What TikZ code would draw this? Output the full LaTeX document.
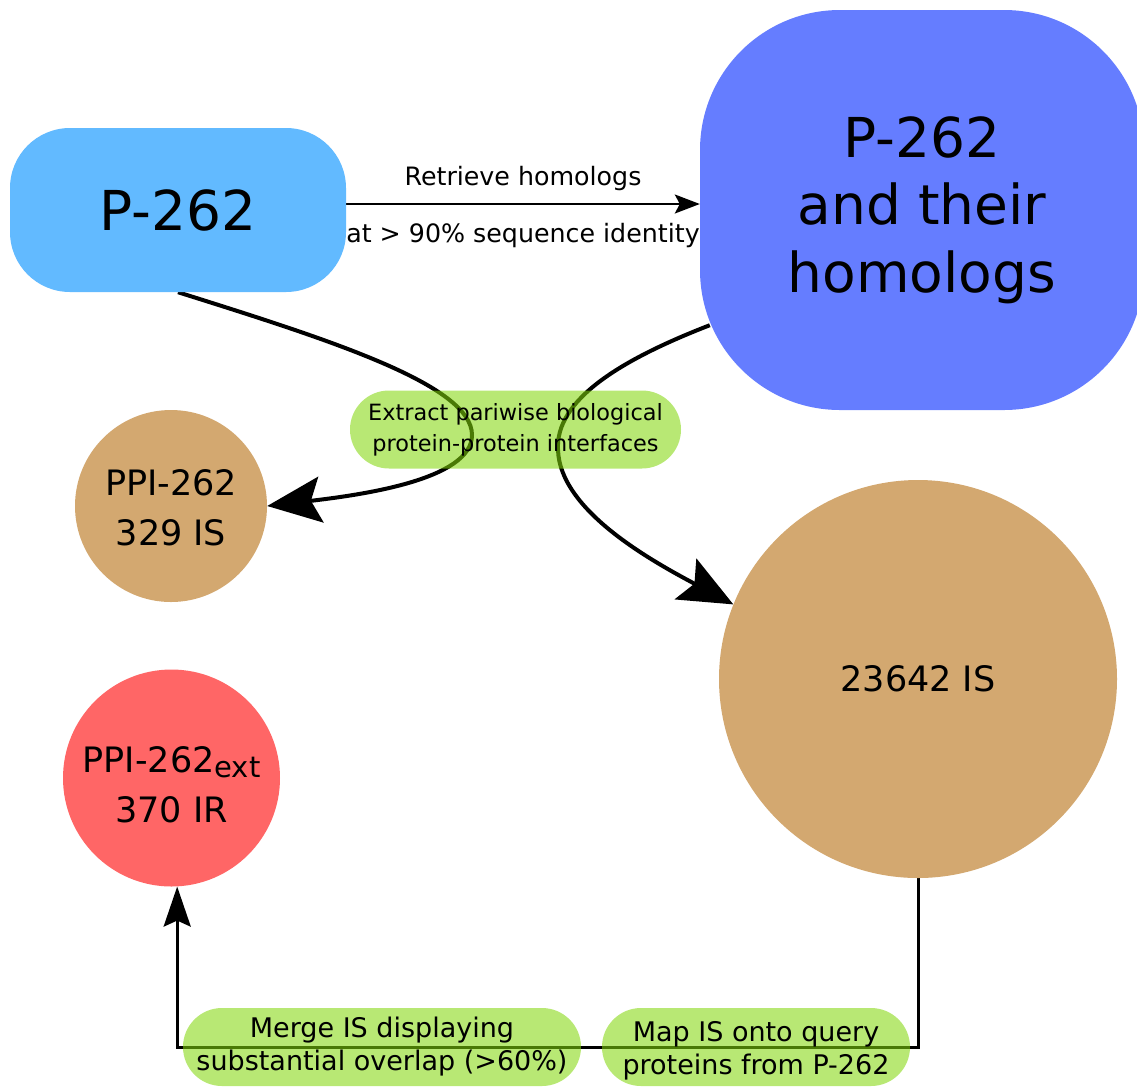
\documentclass[tikz,border=0pt]{standalone}
\usepackage{fontspec}
\setmainfont{DejaVu Sans}
\usetikzlibrary{arrows.meta,backgrounds}
\definecolor{skyblue}{RGB}{98,186,255}
\definecolor{royalblue}{RGB}{101,125,255}
\definecolor{sand}{RGB}{211,168,112}
\definecolor{coral}{RGB}{255,102,102}
\definecolor{lime}{RGB}{130,214,10}

\begin{document}
\begin{tikzpicture}[x=1pt, y=-1pt,
    box/.style={rectangle, align=center, inner sep=0pt, font=\fontsize{55}{67.5}\selectfont},
    blob/.style={circle, align=center, inner sep=0pt, font=\fontsize{35}{50}\selectfont},
    pill/.style={rectangle, rounded corners=39pt, fill=lime, fill opacity=0.57, text opacity=1,
                 align=center, inner sep=0pt, minimum height=78pt},
    tag/.style={inner sep=0pt, font=\fontsize{25.3}{30}\selectfont},
    flow/.style={line width=4pt, -{Stealth[length=54pt, width=46pt, inset=10pt]}}]
    \useasboundingbox (0,0) rectangle (1137,1088);

    \node[box, fill=skyblue, rounded corners=60pt, minimum width=336pt, minimum height=164pt] (p262) at (178,210) {P-262};
    \node[box, fill=royalblue, rounded corners=140pt, minimum width=444pt, minimum height=400pt] (homologs) at (922,210) {P-262\\and their\\homologs};

    \node[blob, fill=sand, minimum size=192pt] (ppi) at (171,506) {\rule{0pt}{30pt}PPI-262\\329 IS};
    \node[blob, fill=sand, minimum size=398pt] (is) at (918,679) {23642 IS};
    \node[blob, fill=coral, minimum size=217pt] (ext) at (171.5,778) {\rule{0pt}{39pt}PPI-262\smash{\raisebox{-5pt}{\fontsize{29}{29}\selectfont ext}}\\370 IR};

    \node[pill, minimum width=331pt, font=\fontsize{22.4}{31}\selectfont] (extract) at (515.5,429.5) {Extract pariwise biological\\protein-protein interfaces};
    \node[pill, minimum width=398pt, font=\fontsize{27}{33}\selectfont] (merge) at (382,1047) {Merge IS displaying\\substantial overlap (>60\%)};
    \node[pill, minimum width=308pt, font=\fontsize{27}{33}\selectfont] (map) at (756,1047) {\rule{0pt}{28pt}Map IS onto query\\proteins from P-262};

    \begin{scope}[on background layer]
        \draw[line width=2pt, -{Stealth[length=25pt, width=19pt, inset=5pt]}] ([yshift=6pt]p262.east) --
            node[tag, above=12pt] {Retrieve homologs}
            node[tag, below=18pt] {at > 90\% sequence identity} ([yshift=6pt]homologs.west);
        \draw[flow] (p262.south) .. controls (330,340) and (472,385) .. (472,435)
            .. controls (472,480) and (360,495) .. (ppi.east);
        \draw[flow] ([shift={(10,-85)}]homologs.south west) .. controls (620,360) and (555,400) .. (558,450)
            .. controls (560,510) and (650,560) .. (is.158);
        \draw[line width=3pt, -{Stealth[length=40pt, width=27pt, inset=6pt]}] ([yshift=6pt]is.south) |- (map.center) -- (merge.center) -| (ext.-87);
    \end{scope}
\end{tikzpicture}
\end{document}
